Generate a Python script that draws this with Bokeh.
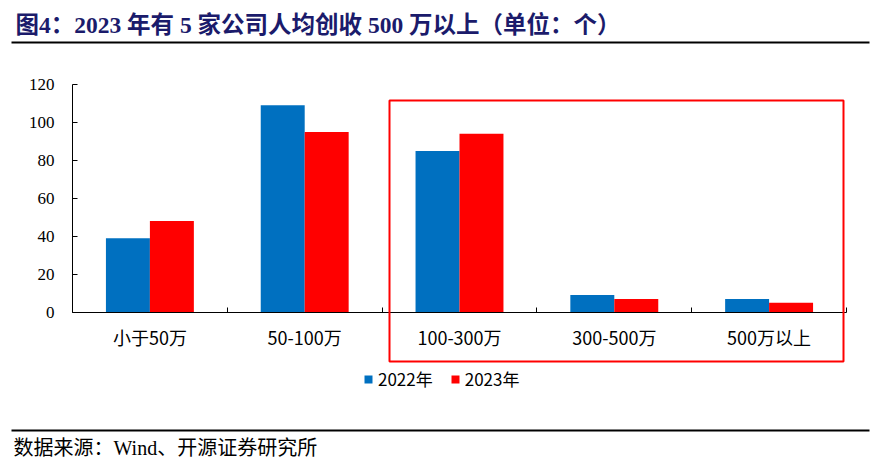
import numpy as np
from bokeh.plotting import figure
from bokeh.models import (Range1d, FixedTicker, Label, BoxAnnotation, Legend, LegendItem,
                          ColumnDataSource)
from bokeh.embed import file_html
from bokeh.resources import INLINE

# ---- data ----
categories = ["小于50万", "50-100万", "100-300万", "300-500万", "500万以上"]
series_names = ["2022年", "2023年"]
values_2022 = [39, 109, 85, 9, 7]
values_2023 = [48, 95, 94, 7, 5]
y_ticks = [0, 20, 40, 60, 80, 100, 120]
title_text = "图4：2023 年有 5 家公司人均创收 500 万以上（单位：个）"
source_text = "数据来源：Wind、开源证券研究所"

BLUE = "#0070C0"
RED = "#FF0000"
NAVY = "#1B1B6B"
SERIF_CJK = "'Liberation Serif', 'Noto Sans CJK SC'"
SANS_CJK = "Noto Sans CJK SC"

# ---- layout (pixels on the canvas) ----
W, H = 872, 458
AX_LEFT, AX_RIGHT = 72.0, 846.0      # x-axis extent
AX_TOP, AX_BOTTOM = 84.0, 311.7      # y-axis extent (120 .. 0)

n = len(categories)
ymax = y_ticks[-1]
px_per_cat = (AX_RIGHT - AX_LEFT) / n
px_per_unit = (AX_BOTTOM - AX_TOP) / ymax
x_start = -AX_LEFT / px_per_cat
x_end = (W - AX_LEFT) / px_per_cat
y_start = -(H - AX_BOTTOM) / px_per_unit
y_end = AX_BOTTOM / px_per_unit


def sy(page_y):
    """canvas y (from top) -> frame screen y (from bottom)"""
    return H - page_y


centers = np.arange(n) + 0.5
bar_w = 0.284

p = figure(width=W, height=H, output_backend="svg", toolbar_location=None,
           x_range=Range1d(x_start, x_end), y_range=Range1d(y_start, y_end),
           min_border=0, min_border_left=0, min_border_right=0,
           min_border_top=0, min_border_bottom=0)
p.outline_line_color = None
p.xgrid.grid_line_color = None
p.ygrid.grid_line_color = None
p.background_fill_color = "white"
p.border_fill_color = "white"

src = ColumnDataSource(dict(xb=centers - bar_w / 2, xr=centers + bar_w / 2,
                            v22=values_2022, v23=values_2023))
r22 = p.vbar(x="xb", top="v22", width=bar_w, bottom=0, source=src,
             fill_color=BLUE, line_color=None)
r23 = p.vbar(x="xr", top="v23", width=bar_w, bottom=0, source=src,
             fill_color=RED, line_color=None)

# x axis: labels at category centres, small ticks at category boundaries
xa = p.xaxis[0]
xa.fixed_location = 0
xa.bounds = (0, n)
xa.ticker = FixedTicker(ticks=list(centers), minor_ticks=list(range(0, n + 1)))
xa.major_label_overrides = {float(c): cat for c, cat in zip(centers, categories)}
xa.major_tick_in = 0
xa.major_tick_out = 0
xa.minor_tick_in = 5
xa.minor_tick_out = 0
xa.minor_tick_line_color = "black"
xa.axis_line_color = "black"
xa.major_label_text_font = SANS_CJK
xa.major_label_text_font_size = "18px"
xa.major_label_text_color = "black"
xa.major_label_standoff = 12

ya = p.yaxis[0]
ya.fixed_location = 0
ya.bounds = (0, ymax)
ya.ticker = FixedTicker(ticks=y_ticks)
ya.major_tick_in = 5
ya.major_tick_out = 0
ya.minor_tick_line_color = None
ya.axis_line_color = "black"
ya.major_tick_line_color = "black"
ya.major_label_text_font = "Liberation Serif"
ya.major_label_text_font_size = "17px"
ya.major_label_text_color = "black"
ya.major_label_standoff = 18

# title and rules
p.add_layout(Label(x=15, y=sy(24), x_units="screen", y_units="screen", text=title_text,
                   text_font=SERIF_CJK, text_font_style="bold", text_font_size="23.5px",
                   text_color=NAVY, text_baseline="middle", text_align="left"))
for rule_y in (42, 430):
    p.add_layout(BoxAnnotation(left=11, right=869, top=sy(rule_y - 1), bottom=sy(rule_y + 1),
                               left_units="screen", right_units="screen",
                               top_units="screen", bottom_units="screen",
                               fill_color="black", fill_alpha=1, line_color=None))
p.add_layout(Label(x=13, y=sy(447), x_units="screen", y_units="screen", text=source_text,
                   text_font=SERIF_CJK, text_font_size="20px", text_color="black",
                   text_baseline="middle", text_align="left"))

# highlight box
p.add_layout(BoxAnnotation(left=389, right=843, top=sy(100), bottom=sy(361),
                           left_units="screen", right_units="screen",
                           top_units="screen", bottom_units="screen",
                           fill_color=None, fill_alpha=0, line_color=RED, line_alpha=1,
                           line_width=2))

legend = Legend(items=[LegendItem(label=series_names[0], renderers=[r22]),
                       LegendItem(label=series_names[1], renderers=[r23])],
                orientation="horizontal", location=(363, sy(391)),
                padding=0, margin=0, spacing=17, label_standoff=5,
                glyph_width=10, glyph_height=10, label_height=20,
                label_text_font=SANS_CJK, label_text_font_size="17px",
                label_text_color="black", border_line_color=None,
                background_fill_alpha=0)
p.add_layout(legend, "center")

open("out.html", "w").write(file_html(p, INLINE))
